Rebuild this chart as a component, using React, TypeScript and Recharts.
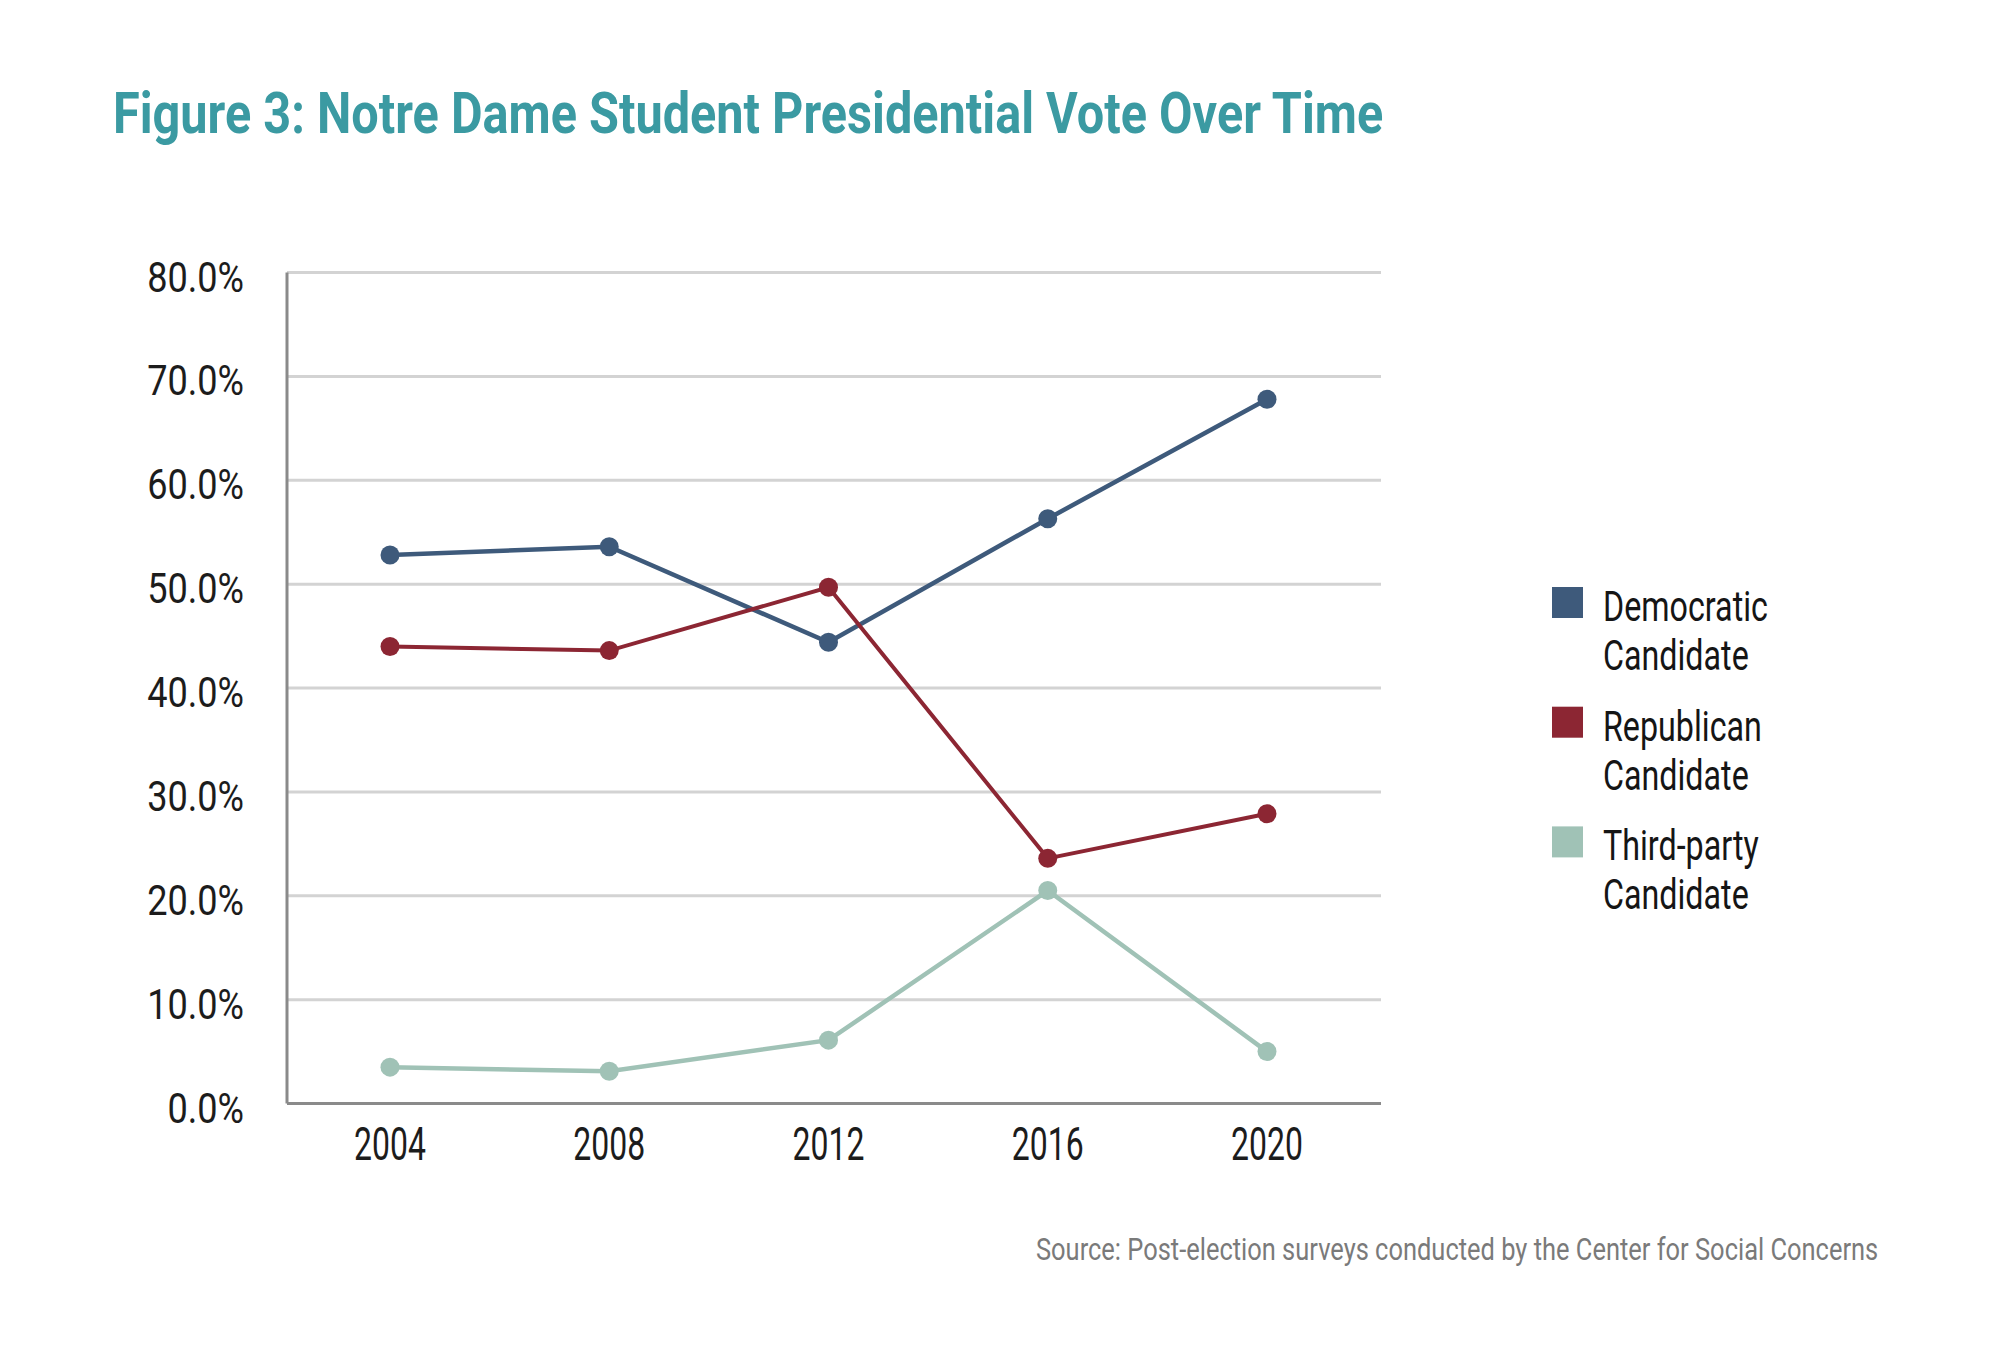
import React from 'react';
import { LineChart, Line, XAxis, YAxis, CartesianGrid, Legend } from 'recharts';

const years = ['2004', '2008', '2012', '2016', '2020'];
const democratic = [52.8, 53.6, 44.4, 56.3, 67.8];
const republican = [44.0, 43.6, 49.7, 23.6, 27.9];
const thirdParty = [3.5, 3.1, 6.1, 20.5, 5.0];
const yTicks = [0, 10, 20, 30, 40, 50, 60, 70, 80];
const seriesNames = ['Democratic Candidate', 'Republican Candidate', 'Third-party Candidate'];
const seriesColors = ['#3e5a7b', '#8c2633', '#a0c2b6'];
const titleText = 'Figure 3: Notre Dame Student Presidential Vote Over Time';
const sourceText = 'Source: Post-election surveys conducted by the Center for Social Concerns';

const data = years.map((y, i) => ({
  year: y,
  dem: democratic[i],
  rep: republican[i],
  third: thirdParty[i],
}));

const FONT = 'Roboto, "Liberation Sans", sans-serif';

const CondText = ({ x, y, sx, anchor, size, weight, fill, children }: any) => (
  <text
    transform={`translate(${x},${y}) scale(${sx},1)`}
    textAnchor={anchor}
    fontSize={size}
    fontFamily={FONT}
    fontWeight={weight || 400}
    fill={fill}
  >
    {children}
  </text>
);

const YTick = (props: any) => {
  const { x, y, payload } = props;
  return (
    <CondText x={x} y={y + 19} sx={0.86} anchor="end" size={42} fill="#1c1c1c">
      {payload.value.toFixed(1) + '%'}
    </CondText>
  );
};

const XTick = (props: any) => {
  const { x, y, payload } = props;
  return (
    <CondText x={x} y={y + 56} sx={0.695} anchor="middle" size={46} fill="#1c1c1c">
      {payload.value}
    </CondText>
  );
};

const renderLegend = (props: any) => {
  const payload = props.payload || [];
  return (
    <svg width={320} height={320} style={{ overflow: 'visible' }}>
      {payload.map((p: any, i: number) => {
        const top = i * 119.7;
        const name = String(p.value);
        const idx = name.indexOf(' ');
        const l1 = name.slice(0, idx);
        const l2 = name.slice(idx + 1);
        return (
          <g key={name}>
            <rect x={0} y={top} width={31} height={31} fill={p.color} />
            <CondText x={51} y={top + 34} sx={0.75} anchor="start" size={43} fill="#151515">
              {l1}
            </CondText>
            <CondText x={51} y={top + 83} sx={0.75} anchor="start" size={43} fill="#151515">
              {l2}
            </CondText>
          </g>
        );
      })}
    </svg>
  );
};

export default function App() {
  return (
    <div style={{ position: 'absolute', left: 0, top: 0, width: 2000, height: 1351, background: '#fff' }}>
      <LineChart
        width={2000}
        height={1351}
        data={data}
        margin={{ top: 272.5, left: 187, right: 619, bottom: 187.5 }}
      >
        <CartesianGrid vertical={false} stroke="#d3d3d3" strokeWidth={3} />
        <XAxis
          dataKey="year"
          height={60}
          padding={{ left: 103, right: 114 }}
          tickLine={false}
          tickSize={0}
          tickMargin={0}
          axisLine={{ stroke: '#8a8a8a', strokeWidth: 3 }}
          tick={<XTick />}
          interval={0}
        />
        <YAxis
          width={100}
          domain={[0, 80]}
          ticks={yTicks}
          tickLine={false}
          tickSize={0}
          tickMargin={43}
          axisLine={{ stroke: '#8a8a8a', strokeWidth: 3 }}
          tick={<YTick />}
          interval={0}
        />
        <Legend
          layout="vertical"
          align="center"
          verticalAlign="middle"
          content={renderLegend}
          wrapperStyle={{ position: 'absolute', left: 1552, top: 587, width: 320, height: 320 }}
        />
        <Line
          type="linear"
          dataKey="dem"
          name={seriesNames[0]}
          stroke={seriesColors[0]}
          strokeWidth={4.5}
          dot={{ r: 9.5, fill: seriesColors[0], stroke: seriesColors[0], strokeWidth: 0 }}
          activeDot={false}
          isAnimationActive={false}
        />
        <Line
          type="linear"
          dataKey="rep"
          name={seriesNames[1]}
          stroke={seriesColors[1]}
          strokeWidth={4}
          dot={{ r: 9.5, fill: seriesColors[1], stroke: seriesColors[1], strokeWidth: 0 }}
          activeDot={false}
          isAnimationActive={false}
        />
        <Line
          type="linear"
          dataKey="third"
          name={seriesNames[2]}
          stroke={seriesColors[2]}
          strokeWidth={4.5}
          dot={{ r: 9.5, fill: seriesColors[2], stroke: seriesColors[2], strokeWidth: 0 }}
          activeDot={false}
          isAnimationActive={false}
        />
      </LineChart>
      <svg
        width={2000}
        height={1351}
        style={{ position: 'absolute', left: 0, top: 0, pointerEvents: 'none' }}
      >
        <text
          transform="translate(113,133) scale(0.82,1)"
          x={0}
          y={0}
          fontSize={58}
          fontFamily={FONT}
          fontWeight={700}
          fill="#3b9aa2"
          textLength={1549}
          lengthAdjust="spacingAndGlyphs"
        >
          {titleText}
        </text>
        <text
          transform="translate(1036,1260) scale(0.75,1)"
          x={0}
          y={0}
          fontSize={31}
          fontFamily={FONT}
          fill="#7a7a7a"
          textLength={1123}
          lengthAdjust="spacingAndGlyphs"
        >
          {sourceText}
        </text>
      </svg>
    </div>
  );
}
